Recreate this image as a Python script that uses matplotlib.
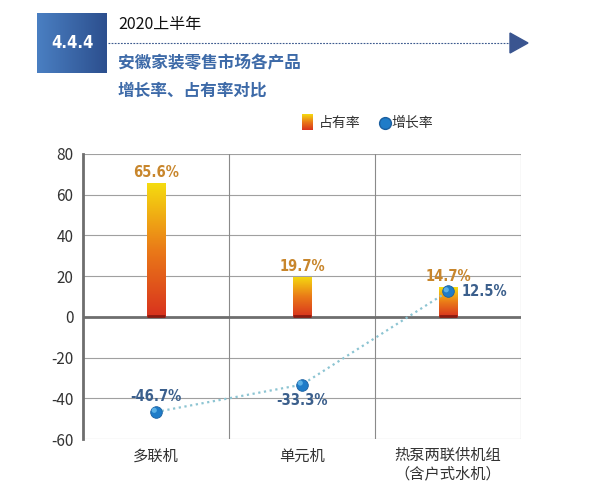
import numpy as np
import matplotlib
matplotlib.use("Agg")
import matplotlib.pyplot as plt
from matplotlib.colors import LinearSegmentedColormap
from matplotlib.patches import Polygon

plt.rcParams['font.family'] = ['Noto Sans CJK SC', 'DejaVu Sans']
plt.rcParams['axes.unicode_minus'] = False

categories = ['多联机', '单元机', '热泵两联供机组\n（含户式水机）']
share = [65.6, 19.7, 14.7]          # 占有率
growth = [-46.7, -33.3, 12.5]       # 增长率
share_labels = ['65.6%', '19.7%', '14.7%']
growth_labels = ['-46.7%', '-33.3%', '12.5%']
yticks = [80, 60, 40, 20, 0, -20, -40, -60]

W, H = 600, 494
fig = plt.figure(figsize=(6, 4.94), dpi=100)

def fx(x): return x / W
def fy(y): return 1 - y / H

ax = fig.add_axes([fx(83), fy(439), fx(521) - fx(83), fy(154) - fy(439)])
ax.set_xlim(-0.5, 2.5)
ax.set_ylim(-60, 80)

# grid
for v in yticks:
    ax.axhline(v, color='#a0a0a0', lw=0.8, zorder=0)
ax.axhline(0, color='#6e6e6e', lw=2.0, zorder=1)
for xb in [0.5, 1.5, 2.5]:
    ax.axvline(xb, color='#8a8a8a', lw=0.8, zorder=0)
for s in ['top', 'right', 'bottom']:
    ax.spines[s].set_visible(False)
ax.spines['left'].set_color('#6e6e6e')
ax.spines['left'].set_linewidth(2.0)
ax.tick_params(axis='y', length=0, labelsize=11, colors='#333333', pad=7)
ax.tick_params(axis='x', length=0, labelsize=11, colors='#333333', pad=6)
ax.set_yticks(yticks)
ax.set_xticks(range(len(categories)))
ax.set_xticklabels(categories, fontsize=11, color='#333333', linespacing=1.1)

# gradient bars
bar_cmap = LinearSegmentedColormap.from_list('bg', ['#d8321e', '#ea7a18', '#f5dc10'])
grad = np.linspace(0, 1, 256).reshape(-1, 1)
x = np.arange(len(categories))
bars = ax.bar(x, share, width=0.125, color='none', edgecolor='none', zorder=2)
for b in bars:
    x0, w, h = b.get_x(), b.get_width(), b.get_height()
    im = ax.imshow(grad, cmap=bar_cmap, origin='lower', aspect='auto',
                   extent=[x0, x0 + w, 0, h], zorder=2)
    im.set_clip_path(b)
    ax.plot([x0, x0 + w], [0.4, 0.4], color='#8a1a10', lw=2, zorder=3, solid_capstyle='butt')
ax.set_xlim(-0.5, 2.5)
ax.set_ylim(-60, 80)

lab_font = dict(family=['DejaVu Sans'], fontstretch='condensed', fontweight='bold', fontsize=10.5)
for xi, v, t in zip(x, share, share_labels):
    ax.text(xi, v + 1.5, t, ha='center', va='bottom', color='#c8862c', zorder=5, **lab_font)

# growth line
ax.plot(x, growth, ls=(0, (1, 1.6)), color='#8cc4d2', lw=1.6, zorder=4)
ax.scatter(x, growth, s=70, color='#1f7cc8', edgecolor='#1a5fa0', linewidth=0.6, zorder=6)
ax.scatter(x - 0.012, np.array(growth) + 0.8, s=14, color='#5ab0e6', edgecolor='none', zorder=7)
offs = [(0, 4.0, 'center', 'bottom'), (0, -4.0, 'center', 'top'), (0.09, 0, 'left', 'center')]
for xi, v, t, (dx, dy, ha, va) in zip(x, growth, growth_labels, offs):
    ax.text(xi + dx, v + dy, t, ha=ha, va=va, color='#3b5f8c', zorder=8, **lab_font)

# header box with gradient
hb = fig.add_axes([fx(37), fy(73), fx(107) - fx(37), fy(13) - fy(73)])
hcmap = LinearSegmentedColormap.from_list('hb', ['#4a7fc2', '#2c4f8e'])
hb.imshow(np.linspace(0, 1, 100).reshape(1, -1), cmap=hcmap, aspect='auto', extent=[0, 1, 0, 1])
hb.set_axis_off()
hb.text(0.5, 0.5, '4.4.4', color='white', fontsize=12, fontweight='bold', ha='center', va='center',
        family=['DejaVu Sans'], fontstretch='condensed')

fig.text(fx(118), fy(24), '2020上半年', fontsize=11.5, color='#111111', ha='left', va='center')
fig.add_artist(plt.Line2D([fx(108), fx(510)], [fy(43), fy(43)], ls=(0, (1.6, 1.2)), color='#3c5a8e', lw=0.8))
fig.add_artist(Polygon([[fx(510), fy(33)], [fx(510), fy(53)], [fx(528), fy(43)]], closed=True,
                       transform=fig.transFigure, color='#3a5590'))
fig.text(fx(118), fy(63), '安徽家装零售市场各产品', fontsize=12, fontweight='bold', color='#3d6aa8',
         ha='left', va='center')
fig.text(fx(118), fy(91), '增长率、占有率对比', fontsize=12, fontweight='bold', color='#3d6aa8',
         ha='left', va='center')

# legend
lg = fig.add_axes([fx(302), fy(130), fx(313) - fx(302), fy(114) - fy(130)])
lg.imshow(grad, cmap=bar_cmap, origin='lower', aspect='auto', extent=[0, 1, 0, 1])
lg.set_axis_off()
fig.text(fx(319), fy(123), '占有率', fontsize=10, color='#333333', ha='left', va='center')
fig.add_artist(plt.Line2D([fx(385)], [fy(123)], marker='o', markersize=8.5, color='#1f7cc8',
                          markeredgecolor='#1a5fa0', transform=fig.transFigure))
fig.text(fx(391), fy(123), '增长率', fontsize=10, color='#333333', ha='left', va='center')

fig.savefig('out.png', dpi=100)
